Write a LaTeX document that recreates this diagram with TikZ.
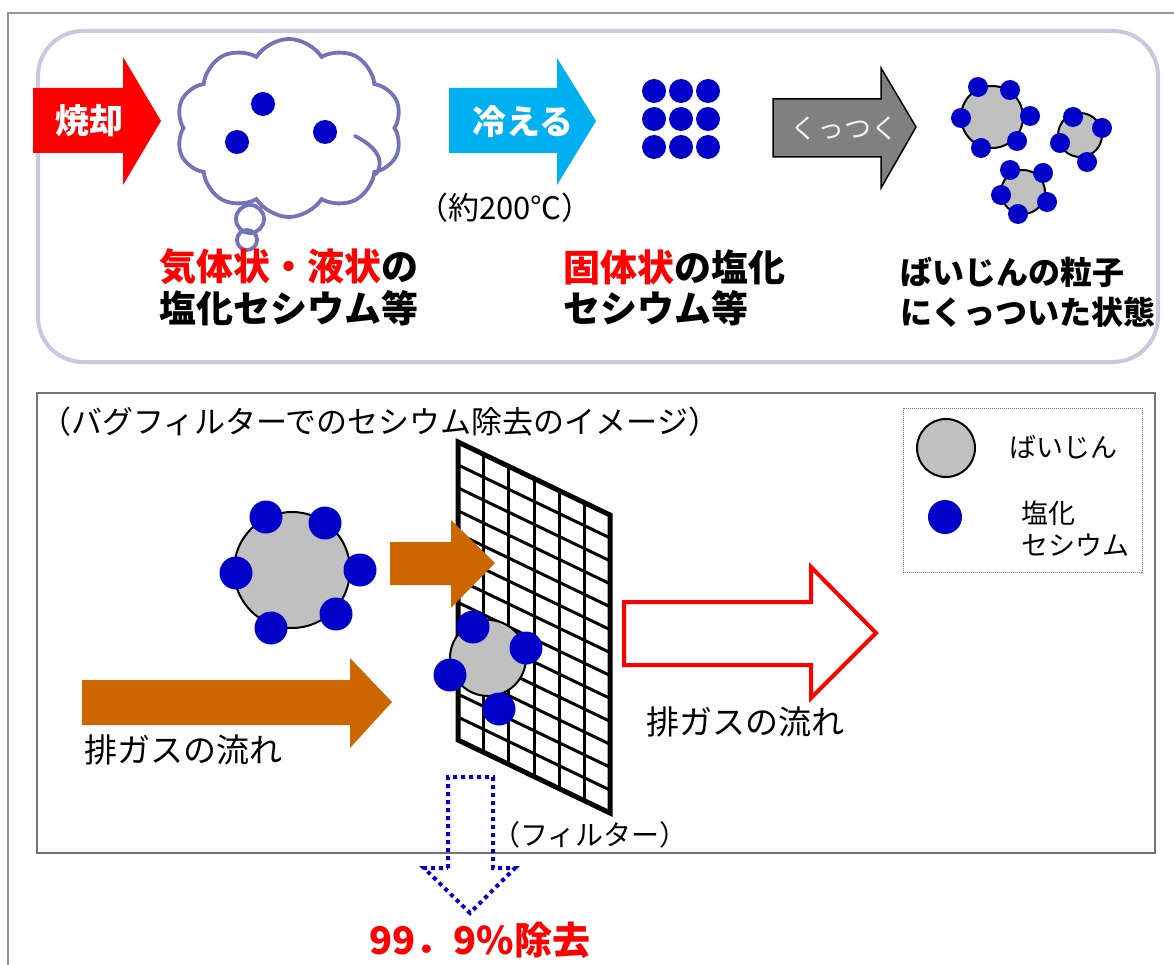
\documentclass[tikz,border=0pt]{standalone}
\usepackage{fontspec}
\newfontfamily\jp{Noto Sans CJK JP}
\usetikzlibrary{shapes.symbols}
\definecolor{csblue}{RGB}{0,0,200}
\definecolor{dustgray}{RGB}{192,192,192}
\definecolor{cloudline}{RGB}{115,115,185}
\definecolor{panelline}{RGB}{200,200,225}
\definecolor{flowbrown}{RGB}{204,102,0}
\definecolor{coolblue}{RGB}{0,176,240}
\definecolor{arrowgray}{RGB}{128,128,128}
\definecolor{framegray}{RGB}{150,150,150}
\definecolor{hotred}{RGB}{255,0,0}
\tikzset{
  bigtxt/.style={font=\jp\bfseries\fontsize{37}{44}\selectfont, anchor=west, inner sep=0pt},
  midtxt/.style={font=\jp\bfseries\fontsize{32}{38}\selectfont, anchor=west, inner sep=0pt},
  arrowtxt/.style={font=\jp\bfseries\fontsize{34}{40}\selectfont, text=white, inner sep=0pt},
  plain/.style={font=\jp\fontsize{#1}{#1}\selectfont, inner sep=0pt},
  dust/.style={fill=dustgray, draw=black, line width=2pt},
  csdot/.style={fill=csblue},
  cloudstroke/.style={draw=cloudline, line width=3.8pt, line cap=round},
}
\begin{document}
\begin{tikzpicture}[x=1pt,y=-1pt]
\useasboundingbox (0,0) rectangle (1174,965);
\fill[white] (0,0) rectangle (1174,965);

% page frame
\draw[framegray, line width=2.5pt] (8,965) -- (8,13) -- (1174,13);

% ---------- upper panel ----------
\draw[panelline, line width=4pt, rounded corners=45pt] (38,31) rectangle (1158,362);

% incineration arrow
\fill[hotred] (33,88) -- (123,88) -- (123,57) -- (161,121) -- (123,185) -- (123,153) -- (33,153) -- cycle;
\node[arrowtxt] (burn) at (89,121) {焼却};

% vapour cloud with its thought bubbles
\node[cloud, cloud puffs=10, cloud puff arc=115, aspect=1.27,
      minimum width=226pt, minimum height=178pt, inner sep=0pt,
      cloudstroke] (cloud) at (289,128) {};
\draw[cloudstroke] (355,136) .. controls (375,146) and (386,160) .. (cloud.-28);
\draw[cloudstroke] (250,219) circle (14pt);
\draw[cloudstroke] (247,240) circle (10pt);
\fill[csdot] (263,104) circle (12pt);
\fill[csdot] (237,142) circle (12pt);
\fill[csdot] (325,132) circle (12pt);

% cooling arrow
\fill[coolblue] (449,88) -- (557,88) -- (557,58) -- (596,121) -- (557,185) -- (557,153) -- (449,153) -- cycle;
\node[arrowtxt] (cool) at (523,122) {冷える};
\node[plain=31] (temp) at (505,208) {（約200℃）};

% solid caesium chloride grid
\foreach \cx in {654,681,708}
  \foreach \cy in {91,119,147}
    \fill[csdot] (\cx,\cy) circle (12pt);

% sticking arrow
\filldraw[fill=arrowgray, draw=black, line width=1.5pt]
  (773,99) -- (881,99) -- (881,68) -- (916,127) -- (881,188) -- (881,157) -- (773,157) -- cycle;
\node[font=\jp\fontsize{27}{30}\selectfont, text=white!95!black, inner sep=0pt] (stick) at (844,129) {くっつく};

% dust particles with attached caesium
\draw[dust] (992,117) circle (31pt);
\foreach \p in {(978,87),(1010,90),(1030,116),(1017,141),(981,148),(961,118)}
  \fill[csdot] \p circle (10pt);
\draw[dust] (1080,135) circle (22pt);
\foreach \p in {(1073,117),(1102,128),(1060,143),(1087,162)}
  \fill[csdot] \p circle (10pt);
\draw[dust] (1023,192) circle (22pt);
\foreach \p in {(1010,170),(1043,173),(1047,202),(1018,214),(1001,195)}
  \fill[csdot] \p circle (10pt);

% captions of the upper panel
\node[bigtxt] (gas1) at (159,267) {\textcolor{hotred}{気体状・液状}の};
\node[bigtxt] (gas2) at (159,308) {塩化セシウム等};
\node[bigtxt] (sol1) at (563,267) {\textcolor{hotred}{固体状}の塩化};
\node[bigtxt] (sol2) at (563,308) {セシウム等};
\node[midtxt] (att1) at (900,272) {ばいじんの粒子};
\node[midtxt] (att2) at (900,312) {にくっついた状態};

% ---------- lower panel ----------
\draw[black!55, line width=1.5pt] (37,393) rectangle (1155,853);
\node[plain=31, anchor=west] (title) at (40,422) {（バグフィルターでのセシウム除去のイメージ）};

% legend
\draw[gray, densely dotted, line width=1pt] (903,408) rectangle (1142,572);
\draw[dust] (946,448) circle (29pt);
\fill[csdot] (945,517) circle (17pt);
\node[plain=27, anchor=west] (legdust) at (1009,447) {ばいじん};
\node[plain=27, anchor=west] (legcs1) at (1021,513) {塩化};
\node[plain=27, anchor=west] (legcs2) at (1021,545) {セシウム};

% filter mesh
\foreach \k in {0,...,6}
  \draw[line width=3pt] ({458+\k*152/6},{442+\k*73/6}) -- ++(0,298);
\foreach \j in {0,...,13}
  \draw[line width=3pt] (458,{442+\j*298/13}) -- (610,{515+\j*298/13});
\draw[line width=5pt, line join=miter] (458,442) -- (610,515) -- (610,813) -- (458,740) -- cycle;
\node[plain=28] (filt) at (590,835) {（フィルター）};

% incoming particle
\draw[dust] (292,570) circle (58pt);
\foreach \p in {(266,517),(325,523),(360,570),(336,614),(271,628),(236,573)}
  \fill[csdot] \p circle (16.5pt);

% particle caught on the filter
\draw[dust] (488,658) circle (38pt);
\foreach \p in {(473,627),(526,648),(450,675),(499,709)}
  \fill[csdot] \p circle (16.5pt);

% gas flow arrows
\fill[flowbrown] (390,542) -- (451,542) -- (451,520) -- (495,563) -- (451,608) -- (451,585) -- (390,585) -- cycle;
\fill[flowbrown] (82,680) -- (350,680) -- (350,658) -- (392,702) -- (350,748) -- (350,725) -- (82,725) -- cycle;
\node[plain=33, anchor=west] (flowin) at (84,750) {排ガスの流れ};
\draw[hotred, fill=white, line width=4pt, line join=miter]
  (624,602) -- (811,602) -- (811,567) -- (876,633) -- (811,698) -- (811,665) -- (624,665) -- cycle;
\node[plain=33, anchor=west] (flowout) at (646,722) {排ガスの流れ};

% removed fraction
\draw[csblue, line width=4pt, dash pattern=on 4pt off 4pt]
  (448,868) -- (448,777) -- (493,777) -- (493,868) -- (515,868) -- (470,913) -- (424,868) -- cycle;
\node[font=\jp\bfseries\fontsize{38}{44}\selectfont, text=hotred, inner sep=0pt] (rate) at (480,940) {99．9\%除去};
\end{tikzpicture}
\end{document}
